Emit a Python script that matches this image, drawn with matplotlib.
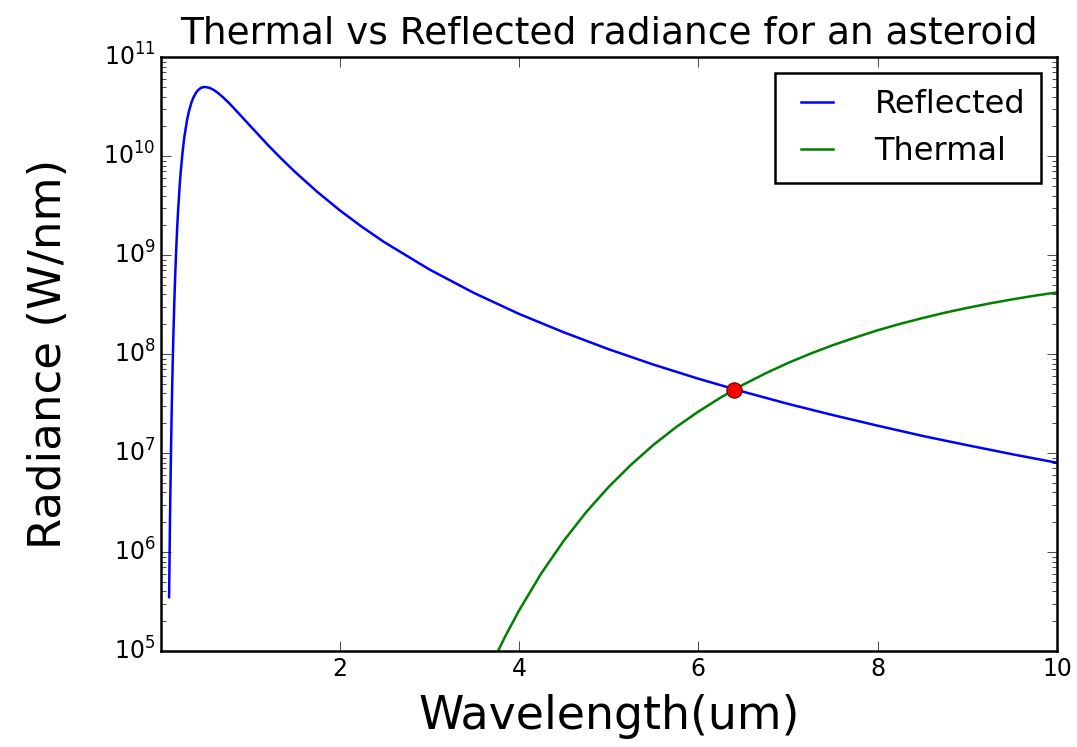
import matplotlib as mpl
mpl.use('Agg')
import matplotlib.pyplot as plt
import numpy as np

plt.style.use('classic')
plt.rcParams['figure.facecolor'] = 'white'
plt.rcParams['savefig.facecolor'] = 'white'
plt.rcParams['font.family'] = 'DejaVu Sans'
plt.rcParams['axes.linewidth'] = 1.8
plt.rcParams['xtick.major.size'] = 7
plt.rcParams['ytick.major.size'] = 7
plt.rcParams['xtick.minor.size'] = 3.5
plt.rcParams['ytick.minor.size'] = 3.5
plt.rcParams['xtick.labelsize'] = 17
plt.rcParams['ytick.labelsize'] = 17

# wavelength (um) and radiance (W/nm)
wl_reflected = [0.10, 0.11, 0.12, 0.13, 0.14, 0.15, 0.16, 0.17, 0.18, 0.19, 0.20,
                0.22, 0.23, 0.25, 0.27, 0.30, 0.32, 0.35, 0.37, 0.40, 0.42, 0.45,
                0.47, 0.50, 0.55, 0.60, 0.65, 0.70, 0.75, 0.80, 0.90, 1.0, 1.1,
                1.2, 1.35, 1.5, 1.75, 2.0, 2.25, 2.5, 3.0, 3.5, 4.0, 4.5, 5.0,
                5.5, 6.0, 6.5, 7.0, 7.5, 8.0, 8.5, 9.0, 9.5, 10.0]
reflected = [3.5e5, 2.07e6, 8.85e6, 2.92e7, 7.92e7, 1.83e8, 3.75e8, 6.92e8, 1.17e9,
             1.86e9, 2.77e9, 5.32e9, 6.97e9, 1.09e10, 1.56e10, 2.31e10, 2.81e10,
             3.50e10, 3.89e10, 4.37e10, 4.61e10, 4.86e10, 4.95e10, 5.0e10, 4.90e10,
             4.65e10, 4.31e10, 3.94e10, 3.57e10, 3.21e10, 2.56e10, 2.04e10, 1.63e10,
             1.30e10, 9.45e9, 6.98e9, 4.37e9, 2.85e9, 1.93e9, 1.35e9, 7.18e8,
             4.14e8, 2.55e8, 1.66e8, 1.12e8, 7.83e7, 5.64e7, 4.17e7, 3.14e7,
             2.42e7, 1.89e7, 1.49e7, 1.20e7, 9.73e6, 7.98e6]

wl_thermal = [3.6, 3.7, 3.75, 3.85, 4.0, 4.25, 4.5, 4.75, 5.0, 5.25, 5.5, 5.75,
              6.0, 6.25, 6.5, 6.75, 7.0, 7.25, 7.5, 7.75, 8.0, 8.25, 8.5, 8.75,
              9.0, 9.25, 9.5, 9.75, 10.0]
thermal = [4.68e4, 7.44e4, 9.28e4, 1.42e5, 2.55e5, 6.10e5, 1.30e6, 2.53e6, 4.54e6,
           7.62e6, 1.21e7, 1.82e7, 2.62e7, 3.64e7, 4.90e7, 6.39e7, 8.13e7, 1.01e8,
           1.23e8, 1.47e8, 1.74e8, 2.02e8, 2.31e8, 2.62e8, 2.93e8, 3.25e8, 3.57e8,
           3.89e8, 4.2e8]

cross_wl = 6.4
cross_rad = 4.35e7

fig = plt.figure(figsize=(10.77, 7.47), dpi=100)
ax = fig.add_axes([0.1495, 0.1285, 0.832, 0.795])

ax.semilogy(wl_reflected, reflected, color='b', linewidth=1.8, label='Reflected')
ax.semilogy(wl_thermal, thermal, color='g', linewidth=1.8, label='Thermal')
ax.plot(cross_wl, cross_rad, 'o', color='r', markersize=11, markeredgecolor='#600000',
        markeredgewidth=0.8)

ax.set_xlim(0.01, 10)
ax.set_ylim(1e5, 1e11)
ax.set_title('Thermal vs Reflected radiance for an asteroid', fontsize=27, pad=10)
ax.set_xlabel('Wavelength(um)', fontsize=33, labelpad=10)
ax.set_ylabel('Radiance (W/nm)', fontsize=32.5, labelpad=24)

leg = ax.legend(loc='upper right', fontsize=23, borderaxespad=0.5,
                handlelength=1.6, handletextpad=1.0, borderpad=0.5)
leg.get_frame().set_linewidth(1.8)

plt.savefig('out.png', dpi=100)
